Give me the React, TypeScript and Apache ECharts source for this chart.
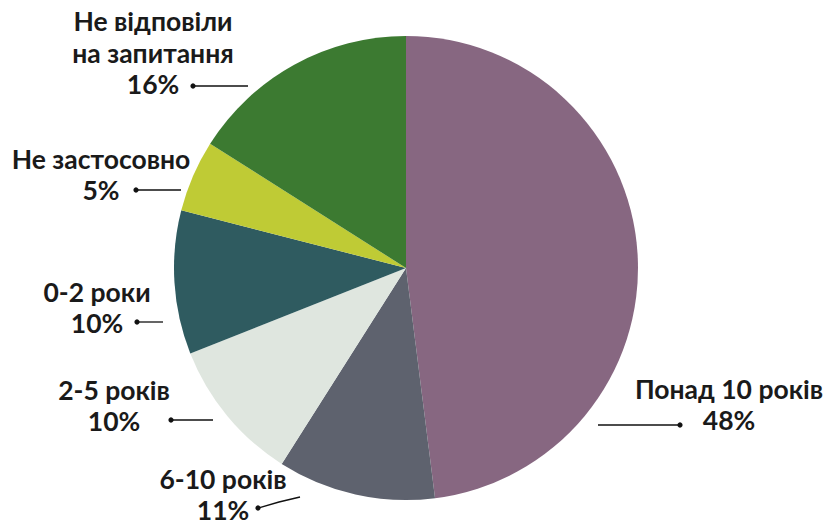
import React, { useEffect, useRef } from "react";
import * as echarts from "echarts";

const categories = [
  "Понад 10 років",
  "6-10 років",
  "2-5 років",
  "0-2 роки",
  "Не застосовно",
  "Не відповіли\nна запитання",
];
const values = [48, 11, 10, 10, 5, 16];
const colors = ["#876781", "#5e626e", "#dfe6df", "#2f5b60", "#bfcb35", "#3c7a31"];

// label layout: centre x, top y of text block, guide line points (last = dot)
const labelPos = [
  { x: 729, y: 373, line: [[598, 425], [639, 425], [680, 425]] },
  { x: 223, y: 463, line: [[300, 497], [279, 502], [258, 508]] },
  { x: 114, y: 374, line: [[213, 420], [192, 420], [171, 420]] },
  { x: 97, y: 276, line: [[163, 322], [150, 322], [137, 322]] },
  { x: 101, y: 143, line: [[181, 190], [158, 190], [136, 190]] },
  { x: 153, y: 5.5, line: [[248, 86], [220, 86], [193, 86]] },
];

export default function App() {
  const ref = useRef<HTMLDivElement>(null);
  useEffect(() => {
    if (!ref.current) return;
    const chart = echarts.init(ref.current, undefined, { renderer: "svg" });
    chart.setOption({
      animation: false,
      backgroundColor: "#ffffff",
      graphic: labelPos.map((p) => ({
        type: "circle",
        shape: { cx: p.line[2][0], cy: p.line[2][1], r: 2.6 },
        style: { fill: "#111111" },
        z: 100,
      })),
      series: [
        {
          type: "pie",
          center: [406, 268],
          radius: 232,
          startAngle: 90,
          clockwise: true,
          data: categories.map((c, i) => ({
            name: c,
            value: values[i],
            itemStyle: { color: colors[i] },
          })),
          label: {
            show: true,
            position: "outside",
            formatter: "{b}\n{c}%",
            fontFamily: "Lato",
            fontWeight: "bold",
            fontSize: 26.5,
            lineHeight: 31.5,
            color: "#1a1a1a",
            align: "center",
            width: 300,
            overflow: "none",
          },
          labelLine: {
            show: true,
            lineStyle: { color: "#111111", width: 1.3 },
          },
          labelLayout: (params: any) => {
            const p = labelPos[params.dataIndex];
            return {
              x: p.x,
              y: p.y,
              align: "center",
              verticalAlign: "top",
              labelLinePoints: p.line,
            };
          },
        },
      ],
    });
    return () => chart.dispose();
  }, []);
  return (
    <div
      ref={ref}
      style={{ position: "fixed", left: 0, top: 0, width: 827, height: 525 }}
    />
  );
}
